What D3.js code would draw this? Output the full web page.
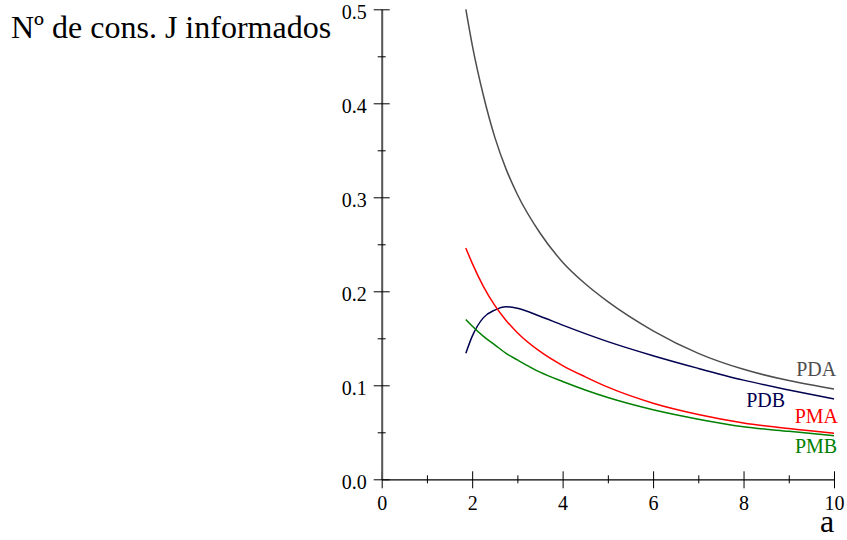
<!DOCTYPE html>
<html>
<head>
<meta charset="utf-8">
<script src="https://cdn.jsdelivr.net/npm/d3@7"></script>
<style>
  body { margin: 0; background: #fff; }
  svg { display: block; }
  svg text { font-family: "Liberation Serif", "DejaVu Serif", serif; }
</style>
</head>
<body>
<svg id="chart" width="847" height="540"></svg>
<script>
// Valors llegits del gràfic (a, valor)
const aValues = [1.86, 2.0, 2.25, 2.5, 2.75, 3.0, 3.5, 4.0, 4.5, 5.0, 6.0, 7.0, 8.0, 9.0, 10.0];
const pda = [0.500, 0.4625, 0.408, 0.364, 0.330, 0.303, 0.262, 0.231, 0.208, 0.189, 0.158, 0.134, 0.117, 0.105, 0.096];
const pdb = [0.134, 0.152, 0.172, 0.180, 0.1835, 0.182, 0.1735, 0.164, 0.155, 0.1465, 0.1315, 0.118, 0.1055, 0.095, 0.0854];
const pma = [0.246, 0.230, 0.205, 0.185, 0.169, 0.156, 0.136, 0.121, 0.109, 0.098, 0.081, 0.069, 0.060, 0.054, 0.049];
const pmb = [0.170, 0.163, 0.152, 0.143, 0.134, 0.127, 0.114, 0.104, 0.095, 0.087, 0.074, 0.064, 0.056, 0.051, 0.0464];

const seriesNames = ["PDA", "PDB", "PMA", "PMB"];
const seriesData = [pda, pdb, pma, pmb];
const seriesColors = ["#4d4d4d", "#000050", "#ff0000", "#008000"];
// posició de les etiquetes (a, valor) de cada corba
const labelPos = [[10.05, 0.110], [8.92, 0.0772], [10.09, 0.0597], [10.07, 0.0277]];

const xMajor = [0, 2, 4, 6, 8, 10];
const xMinor = [1, 3, 5, 7, 9];
const yMajor = [0, 0.1, 0.2, 0.3, 0.4, 0.5];
const yMinor = [0.05, 0.15, 0.25, 0.35, 0.45];

const svg = d3.select("#chart");

const x = d3.scaleLinear().domain([0, 10]).range([381.7, 834]);
const y = d3.scaleLinear().domain([0, 0.5]).range([479.3, 9.3]);

// Eix X
const gx = svg.append("g").attr("transform", `translate(0,${y(0)})`);
gx.call(d3.axisBottom(x).tickValues(xMajor).tickFormat(d3.format("d")).tickSize(0).tickPadding(0));
gx.select(".domain").attr("stroke", "#000").attr("stroke-width", 1.3);
gx.selectAll(".tick line").attr("y1", -8).attr("y2", 9).attr("stroke", "#000");
gx.selectAll(".tick text")
  .attr("y", 30.7).attr("dy", null)
  .style("font-size", "20px").attr("fill", "#000");

const gxm = svg.append("g").attr("transform", `translate(0,${y(0)})`);
gxm.call(d3.axisBottom(x).tickValues(xMinor).tickFormat("").tickSize(0));
gxm.select(".domain").remove();
gxm.selectAll(".tick line").attr("y1", -4).attr("y2", 4).attr("stroke", "#000");

// Eix Y
const gy = svg.append("g").attr("transform", `translate(${x(0)},0)`);
gy.call(d3.axisLeft(y).tickValues(yMajor).tickFormat(d3.format(".1f")).tickSize(0).tickPadding(0));
gy.select(".domain").attr("stroke", "#555").attr("stroke-width", 2);
gy.selectAll(".tick line").attr("x1", -8).attr("x2", 8).attr("stroke", "#000");
gy.selectAll(".tick text")
  .attr("x", -15).attr("dy", "9px").attr("y", 0)
  .style("font-size", "20px").attr("fill", "#000");

const gym = svg.append("g").attr("transform", `translate(${x(0)},0)`);
gym.call(d3.axisLeft(y).tickValues(yMinor).tickFormat("").tickSize(0));
gym.select(".domain").remove();
gym.selectAll(".tick line").attr("x1", -4).attr("x2", 4).attr("stroke", "#000");

// Corbes
const line = d3.line()
  .x((d, i) => x(aValues[i]))
  .y(d => y(d))
  .curve(d3.curveMonotoneX);

seriesData.forEach((s, i) => {
  svg.append("path")
     .datum(s)
     .attr("d", line)
     .attr("fill", "none")
     .attr("stroke", seriesColors[i])
     .attr("stroke-width", 1.5);

  svg.append("text")
     .attr("x", x(labelPos[i][0]))
     .attr("y", y(labelPos[i][1]))
     .attr("text-anchor", "end")
     .attr("fill", seriesColors[i])
     .style("font-size", "20px")
     .text(seriesNames[i]);
});

// Títols
svg.append("text")
   .attr("x", 11)
   .attr("y", 38)
   .style("font-size", "32px")
   .text("Nº de cons. J informados");

svg.append("text")
   .attr("x", 827)
   .attr("y", 532)
   .attr("text-anchor", "middle")
   .style("font-size", "32px")
   .text("a");
</script>
</body>
</html>
